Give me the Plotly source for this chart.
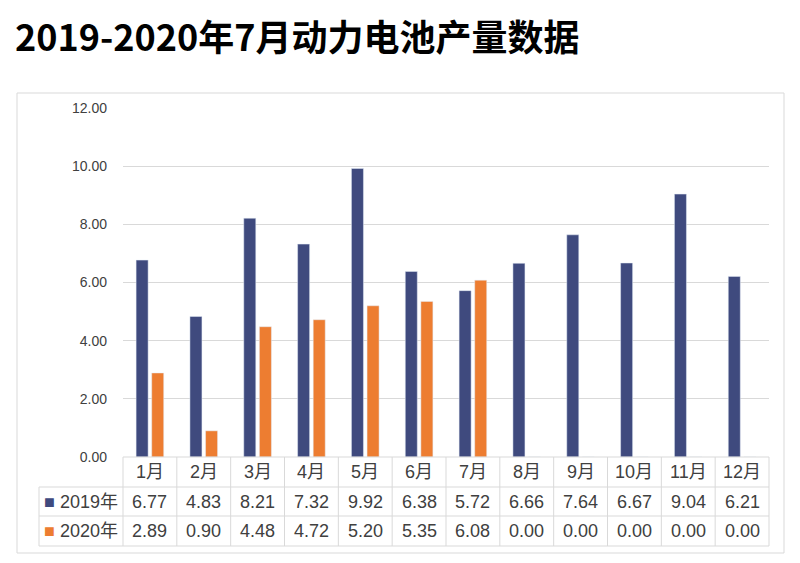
import plotly.graph_objects as go

# data
months = ["1月", "2月", "3月", "4月", "5月", "6月", "7月", "8月", "9月", "10月", "11月", "12月"]
y2019 = [6.77, 4.83, 8.21, 7.32, 9.92, 6.38, 5.72, 6.66, 7.64, 6.67, 9.04, 6.21]
y2020 = [2.89, 0.90, 4.48, 4.72, 5.20, 5.35, 6.08, 0.00, 0.00, 0.00, 0.00, 0.00]
series_names = ["2019年", "2020年"]
title_text = "2019-2020年7月动力电池产量数据"

BLUE = "#3f4a7e"
ORANGE = "#ed7d31"
GRID = "#d9d9d9"
TXT = "#404040"
FONT = "Liberation Sans, Noto Sans CJK SC, sans-serif"

# plot area in pixels
L, R, T, B = 123, 769, 108, 457
W, H = 800, 563


def px_x(p):
    return (p - L) / (R - L)


def px_y(p):
    return (B - p) / (B - T)


fig = go.Figure()
fig.add_trace(go.Bar(x=months, y=y2019, name=series_names[0], marker_color=BLUE))
fig.add_trace(go.Bar(x=months, y=y2020, name=series_names[1], marker_color=ORANGE))

shapes = []
annotations = []

# outer frame
shapes.append(dict(type="rect", xref="paper", yref="paper",
                   x0=px_x(17), x1=px_x(784), y0=px_y(553), y1=px_y(93),
                   line=dict(color=GRID, width=1), fillcolor="rgba(0,0,0,0)", layer="below"))

# data table under the bars
row_top = [457, 487, 516]
row_bot = [487, 516, 546]
tbl_left = 39
n = len(months)
shapes.append(dict(type="line", xref="paper", yref="paper", x0=0, x1=1,
                   y0=px_y(457), y1=px_y(457), line=dict(color=GRID, width=1)))
for yb in row_bot:
    shapes.append(dict(type="line", xref="paper", yref="paper", x0=px_x(tbl_left), x1=1,
                       y0=px_y(yb), y1=px_y(yb), line=dict(color=GRID, width=1)))
shapes.append(dict(type="line", xref="paper", yref="paper", x0=px_x(tbl_left), x1=px_x(tbl_left),
                   y0=px_y(546), y1=px_y(487), line=dict(color=GRID, width=1)))
for i in range(n + 1):
    xp = i / n
    shapes.append(dict(type="line", xref="paper", yref="paper", x0=xp, x1=xp,
                       y0=px_y(546), y1=px_y(457), line=dict(color=GRID, width=1)))

for i, m in enumerate(months):
    annotations.append(dict(x=m, xref="x", y=px_y(472), yref="paper", yanchor="middle",
                            text=m, showarrow=False,
                            font=dict(size=18, color=TXT, family=FONT)))
    for r, vals in enumerate([y2019, y2020]):
        yc = (row_top[r + 1] + row_bot[r + 1]) / 2
        annotations.append(dict(x=m, xref="x", y=px_y(yc), yref="paper", yanchor="middle",
                                text=f"{vals[i]:.2f}", showarrow=False,
                                font=dict(size=18, color=TXT, family=FONT)))

for r, (nm, col) in enumerate(zip(series_names, [BLUE, ORANGE])):
    yc = (row_top[r + 1] + row_bot[r + 1]) / 2
    annotations.append(dict(x=px_x(42), xref="paper", y=px_y(yc), yref="paper",
                            xanchor="left", yanchor="middle",
                            text=f"<span style='color:{col}'>■</span> {nm}", showarrow=False,
                            font=dict(size=18, color=TXT, family=FONT)))

# title
annotations.append(dict(x=px_x(13), xref="paper", y=px_y(35), yref="paper",
                        xanchor="left", yanchor="middle",
                        text=f"<b>{title_text}</b>", showarrow=False,
                        font=dict(size=36, color="black", family="Noto Sans CJK SC, sans-serif")))

fig.update_layout(
    width=W, height=H,
    margin=dict(l=L, r=W - R, t=T, b=H - B),
    paper_bgcolor="white", plot_bgcolor="white",
    barmode="group", bargap=0.42, bargroupgap=0.23,
    showlegend=False,
    shapes=shapes, annotations=annotations,
    xaxis=dict(range=[-0.5, n - 0.5], showticklabels=False, showgrid=False, zeroline=False),
    yaxis=dict(range=[0, 12], dtick=2, tickformat=".2f", showgrid=True, gridcolor=GRID,
               zeroline=False, ticklabelstandoff=15,
               tickfont=dict(size=14, color=TXT, family=FONT)),
    font=dict(family=FONT),
)

# page body has a default margin; drop it so the figure sits at the window origin
fig.write_html("out.html", config={"displayModeBar": False},
               post_script="document.body.style.margin='0';")
